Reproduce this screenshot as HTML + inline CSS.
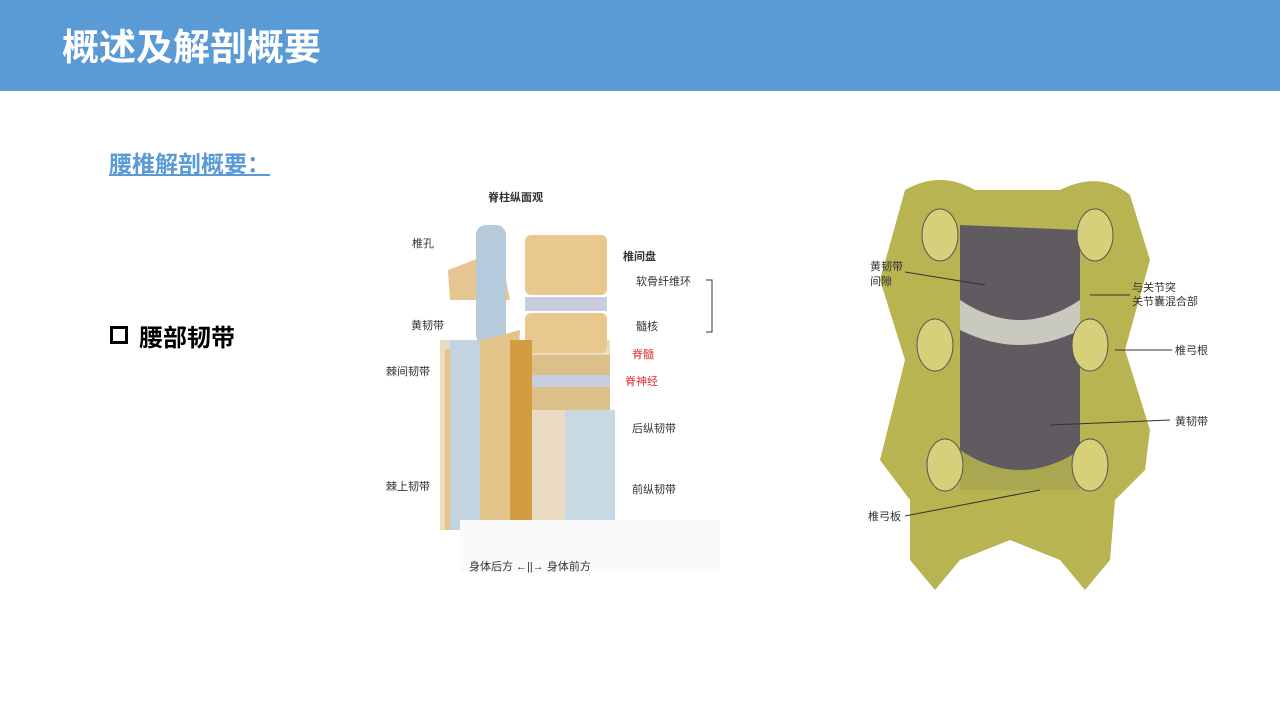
<!DOCTYPE html>
<html><head><meta charset="utf-8"><style>
body{margin:0;width:1280px;height:720px;background:#fff;position:relative;overflow:hidden;font-family:"Liberation Sans","Noto Sans CJK SC",sans-serif}
.hd{position:absolute;left:0;top:0;width:1280px;height:91px;background:#5b9bd5}
.t{position:absolute;left:62px;top:17px;color:#fff;font-size:37px;font-weight:bold}
.s{position:absolute;left:109px;top:145px;color:#5b9bd5;font-size:23px;font-weight:bold;text-decoration:underline}
.b{position:absolute;left:110px;top:326px;width:12px;height:12px;border:3px solid #000}
.bt{position:absolute;left:139px;top:318px;font-size:24px;font-weight:bold}
svg{position:absolute;left:0;top:0}
text{font-family:"Liberation Sans","Noto Sans CJK SC",sans-serif;font-size:11px;fill:#333}
</style></head><body>
<div class="hd"></div><div class="t">概述及解剖概要</div>
<div class="s">腰椎解剖概要：</div>
<div class="b"></div><div class="bt">腰部韧带</div>
<svg width="1280" height="720">
<text x="488" y="201" font-weight="bold" font-size="13">脊柱纵面观</text>
<rect x="440" y="340" width="170" height="190" fill="#e9dcc0"/>
<rect x="565" y="410" width="50" height="130" fill="#c9d9e3"/>
<rect x="525" y="235" width="82" height="60" fill="#e8c88e" rx="6"/>
<rect x="525" y="297" width="82" height="14" fill="#c8cde0"/>
<rect x="525" y="313" width="82" height="40" fill="#e8c88e" rx="6"/>
<rect x="515" y="355" width="95" height="55" fill="#dcc08a"/>
<rect x="525" y="375" width="85" height="12" fill="#c8cde0"/>
<polygon points="448,270 500,250 510,300 450,300" fill="#e5c590"/>
<rect x="476" y="225" width="30" height="120" fill="#b5cadb" rx="10"/>
<polygon points="445,350 520,330 510,530 445,530" fill="#e3c48a"/>
<rect x="450" y="340" width="30" height="190" fill="#c3d3e0"/>
<rect x="510" y="340" width="22" height="200" fill="#d49c40"/>
<rect x="460" y="520" width="260" height="52" fill="#fafafa"/>
<text x="412" y="247">椎孔</text><text x="411" y="329">黄韧带</text><text x="386" y="375">棘间韧带</text><text x="386" y="490">棘上韧带</text>
<text x="623" y="260" font-weight="bold">椎间盘</text><text x="636" y="285">软骨纤维环</text><text x="636" y="330">髓核</text>
<text x="632" y="358" style="fill:#e03030">脊髓</text><text x="625" y="385" style="fill:#e03030">脊神经</text>
<text x="632" y="432">后纵韧带</text><text x="632" y="493">前纵韧带</text>
<text x="469" y="570">身体后方 ←||→ 身体前方</text>
<path d="M706 280h6v52h-6" stroke="#333" fill="none"/>
<path d="M905 190 Q940 170 975 190 L1060 190 Q1100 170 1130 195 L1150 260 L1125 350 L1150 430 L1145 470 L1115 500 L1110 560 L1085 590 L1060 560 L1010 540 L960 560 L935 590 L910 560 L910 500 L880 460 L905 360 L880 280 Z" fill="#b8b451"/>
<path d="M960 225 L1080 230 L1080 490 L960 490 Z" fill="#5f5b60"/>
<path d="M960 300 Q1020 340 1080 300 L1080 330 Q1020 360 960 330Z" fill="#c9c9bd"/>
<path d="M960 450 Q1020 490 1080 450 L1080 490 L960 490Z" fill="#a9a850"/>
<g fill="#d7cf7a" stroke="#555"><ellipse cx="940" cy="235" rx="18" ry="26"/><ellipse cx="1095" cy="235" rx="18" ry="26"/><ellipse cx="935" cy="345" rx="18" ry="26"/><ellipse cx="1090" cy="345" rx="18" ry="26"/><ellipse cx="945" cy="465" rx="18" ry="26"/><ellipse cx="1090" cy="465" rx="18" ry="26"/></g>
<g stroke="#333" stroke-width="1"><line x1="905" y1="272" x2="985" y2="285"/><line x1="1130" y1="295" x2="1090" y2="295"/><line x1="1172" y1="350" x2="1115" y2="350"/><line x1="1170" y1="420" x2="1050" y2="425"/><line x1="905" y1="516" x2="1040" y2="490"/></g>
<text x="870" y="270">黄韧带</text><text x="870" y="285">间隙</text>
<text x="1132" y="291">与关节突</text><text x="1132" y="305">关节囊混合部</text>
<text x="1175" y="354">椎弓根</text><text x="1175" y="425">黄韧带</text><text x="868" y="520">椎弓板</text>
</svg>
</body></html>
